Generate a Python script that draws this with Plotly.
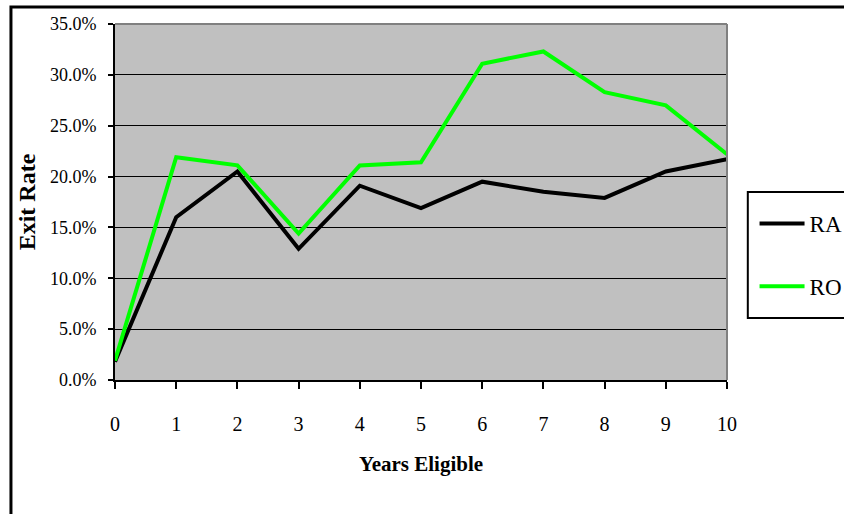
import plotly.graph_objects as go

# Exit rate by years of eligibility
years = [0, 1, 2, 3, 4, 5, 6, 7, 8, 9, 10]
ra_rate = [1.8, 16.0, 20.5, 12.9, 19.1, 16.9, 19.5, 18.5, 17.9, 20.5, 21.7]
ro_rate = [1.9, 21.9, 21.1, 14.4, 21.1, 21.4, 31.1, 32.3, 28.3, 27.0, 22.2]
y_ticks = [0, 5, 10, 15, 20, 25, 30, 35]

SERIF = "Liberation Serif, Times New Roman, serif"

fig = go.Figure()
fig.add_trace(go.Scatter(
    x=years, y=[v / 100 for v in ra_rate], name="RA", mode="lines",
    line=dict(color="#000000", width=4), legendgroup="ra",
))
fig.add_trace(go.Scatter(
    x=years, y=[v / 100 for v in ro_rate], name="RO", mode="lines",
    line=dict(color="#00FF00", width=4), legendgroup="ro",
))

fig.update_layout(
    width=844, height=514,
    margin=dict(l=115, r=117, t=24, b=134, autoexpand=False),
    paper_bgcolor="#FFFFFF",
    plot_bgcolor="#C0C0C0",
    font=dict(family=SERIF, color="#000000"),
    legend=dict(
        x=1.045, xanchor="left", y=0.5, yanchor="top",
        bgcolor="rgba(0,0,0,0)", borderwidth=0,
        font=dict(family=SERIF, size=23, color="#000000"),
        tracegroupgap=30, itemwidth=45,
    ),
    showlegend=True,
)

fig.update_xaxes(
    range=[0, 10], tickvals=years, ticktext=[str(y) for y in years],
    showgrid=False, zeroline=False,
    showline=True, linecolor="#000000", linewidth=2,
    ticks="outside", ticklen=7, tickwidth=2, tickcolor="#000000",
    tickfont=dict(family=SERIF, size=20), ticklabelstandoff=18,
    title=dict(text="<b>Years Eligible</b>", font=dict(family=SERIF, size=21), standoff=22),
)
fig.update_yaxes(
    range=[0, 0.35], tickvals=[t / 100 for t in y_ticks], tickformat=".1%",
    showgrid=True, gridcolor="#000000", gridwidth=1, zeroline=False,
    showline=True, linecolor="#000000", linewidth=2,
    ticks="outside", ticklen=5, tickwidth=2, tickcolor="#000000",
    tickfont=dict(family=SERIF, size=18), ticklabelstandoff=8,
    title=dict(text="<b>Exit Rate</b>", font=dict(family=SERIF, size=24), standoff=8),
)

# Grey frame on the top and right of the plot area
fig.add_shape(type="line", xref="x domain", yref="y domain", x0=0, x1=1, y0=1, y1=1,
              line=dict(color="#808080", width=2), layer="above")
fig.add_shape(type="line", xref="x domain", yref="y domain", x0=1, x1=1, y0=0, y1=1,
              line=dict(color="#808080", width=2), layer="above")

# Outer chart border
fig.add_shape(type="rect", xref="paper", yref="paper",
              x0=-0.170, x1=1.6, y0=-0.6, y1=1.048,
              line=dict(color="#000000", width=3), fillcolor="rgba(0,0,0,0)", layer="below")

# Legend frame (runs off the right edge of the chart)
fig.add_shape(type="rect", xref="paper", yref="paper",
              x0=1.034, x1=1.4, y0=(380 - 318) / 356, y1=(380 - 192) / 356,
              line=dict(color="#000000", width=2), fillcolor="#FFFFFF", layer="above")

fig.write_html("out.html")
